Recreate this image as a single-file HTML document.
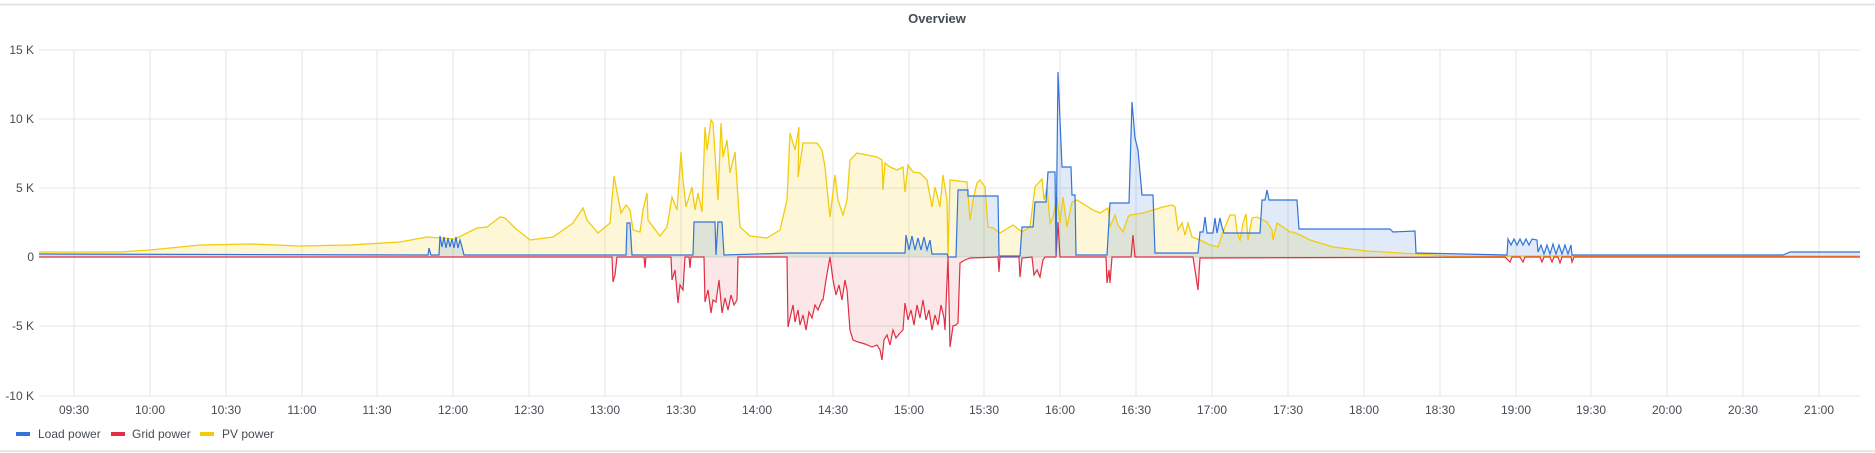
<!DOCTYPE html>
<html><head><meta charset="utf-8"><style>
html,body{margin:0;padding:0;background:#fff;}
svg{display:block;font-family:"Liberation Sans",sans-serif;}
</style></head><body>
<svg width="1875" height="453" viewBox="0 0 1875 453" xmlns="http://www.w3.org/2000/svg">
<rect x="0" y="0" width="1875" height="453" fill="#fff"/>
<line x1="0" y1="4.5" x2="1875" y2="4.5" stroke="#dde1e6" stroke-width="1.5"/>
<line x1="0" y1="451" x2="1875" y2="451" stroke="#dde1e6" stroke-width="1.5"/>
<text x="937" y="23" text-anchor="middle" font-size="13" font-weight="bold" fill="#464c54">Overview</text>
<g stroke="#e4e4e4" stroke-width="1">
<line x1="39" y1="50" x2="1860" y2="50"/><line x1="39" y1="119" x2="1860" y2="119"/>
<line x1="39" y1="188" x2="1860" y2="188"/><line x1="39" y1="257" x2="1860" y2="257"/>
<line x1="39" y1="326" x2="1860" y2="326"/><line x1="39" y1="396" x2="1860" y2="396"/>
<line x1="74" y1="50" x2="74" y2="396"/><line x1="150" y1="50" x2="150" y2="396"/><line x1="226" y1="50" x2="226" y2="396"/><line x1="302" y1="50" x2="302" y2="396"/><line x1="377" y1="50" x2="377" y2="396"/><line x1="453" y1="50" x2="453" y2="396"/><line x1="529" y1="50" x2="529" y2="396"/><line x1="605" y1="50" x2="605" y2="396"/><line x1="681" y1="50" x2="681" y2="396"/><line x1="757" y1="50" x2="757" y2="396"/><line x1="833" y1="50" x2="833" y2="396"/><line x1="909" y1="50" x2="909" y2="396"/><line x1="984" y1="50" x2="984" y2="396"/><line x1="1060" y1="50" x2="1060" y2="396"/><line x1="1136" y1="50" x2="1136" y2="396"/><line x1="1212" y1="50" x2="1212" y2="396"/><line x1="1288" y1="50" x2="1288" y2="396"/><line x1="1364" y1="50" x2="1364" y2="396"/><line x1="1440" y1="50" x2="1440" y2="396"/><line x1="1516" y1="50" x2="1516" y2="396"/><line x1="1591" y1="50" x2="1591" y2="396"/><line x1="1667" y1="50" x2="1667" y2="396"/><line x1="1743" y1="50" x2="1743" y2="396"/><line x1="1819" y1="50" x2="1819" y2="396"/>
</g>
<g font-size="12" fill="#464c54" text-anchor="end">
<text x="34" y="54">15 K</text><text x="34" y="123">10 K</text><text x="34" y="192">5 K</text><text x="34" y="261">0</text><text x="34" y="330">-5 K</text><text x="34" y="400">-10 K</text>
</g>
<g font-size="12" fill="#464c54" text-anchor="middle">
<text x="74" y="414">09:30</text><text x="150" y="414">10:00</text><text x="226" y="414">10:30</text><text x="302" y="414">11:00</text><text x="377" y="414">11:30</text><text x="453" y="414">12:00</text><text x="529" y="414">12:30</text><text x="605" y="414">13:00</text><text x="681" y="414">13:30</text><text x="757" y="414">14:00</text><text x="833" y="414">14:30</text><text x="909" y="414">15:00</text><text x="984" y="414">15:30</text><text x="1060" y="414">16:00</text><text x="1136" y="414">16:30</text><text x="1212" y="414">17:00</text><text x="1288" y="414">17:30</text><text x="1364" y="414">18:00</text><text x="1440" y="414">18:30</text><text x="1516" y="414">19:00</text><text x="1591" y="414">19:30</text><text x="1667" y="414">20:00</text><text x="1743" y="414">20:30</text><text x="1819" y="414">21:00</text>
</g>
<!-- PV -->
<polygon fill="#F2CC0C" fill-opacity="0.16" points="39,257 39,252 120,252 150,250 200,245 250,244 300,246 350,245 400,242 427,237 455,239 477,228 487,227 500,217 505,218 515,228 530,240 553,237 573,223 583,208 587,220 598,233 610,223 614,176 618,197 621,213 626,205 630,210 633,230 640,232 643,210 647,193 648,220 660,236 667,227 672,197 677,210 681,152 683,180 686,207 692,187 695,210 698,193 702,212 705,127 707,150 711,120 713,123 718,200 721,123 723,157 727,140 730,173 735,152 737,183 740,227 750,236 767,238 780,230 787,200 790,133 795,150 799,127 798,177 803,143 817,143 822,150 825,167 827,188 830,217 835,175 838,200 843,215 847,200 850,160 857,153 877,157 882,160 883,190 885,163 890,167 897,170 903,167 905,192 908,165 913,172 920,173 927,180 932,207 935,187 940,207 943,175 947,200 948,257 950,180 967,182 970,220 973,200 977,183 980,180 985,187 988,227 993,228 1000,233 1013,225 1022,232 1030,227 1035,187 1042,179 1044,200 1047,187 1050,223 1053,217 1057,197 1060,223 1063,197 1067,227 1072,202 1077,200 1093,210 1100,213 1108,208 1110,227 1115,215 1118,225 1123,232 1128,217 1130,215 1143,213 1153,210 1163,207 1172,205 1175,207 1178,230 1182,223 1185,235 1188,223 1192,237 1200,240 1210,245 1218,247 1223,232 1230,215 1235,215 1237,232 1240,240 1243,223 1246,214 1248,240 1252,218 1257,217 1267,222 1272,230 1273,240 1277,223 1283,227 1290,232 1293,232 1300,235 1310,240 1320,243 1333,247 1367,251 1400,253 1450,256 1860,256 1860,257"/>
<!-- Load fill -->
<polygon fill="#3274D9" fill-opacity="0.15" points="39,257 39,254 428,255 429,248 431,255 439,255 440,236 442,247 444,237 446,248 448,238 450,247 452,239 454,248 456,237 458,248 460,240 462,247 464,255 626,255 627,223 630,223 632,255 693,255 694,222 715,222 716,255 718,222 722,222 724,255 790,253 905,253 906,235 909,250 912,236 915,250 918,238 921,250 924,237 927,250 930,240 932,254 947,254 948,257 956,257 958,190 968,190 968,196 998,196 999,256 1020,256 1022,227 1033,227 1035,202 1046,202 1048,172 1055,172 1056,255 1058,72 1062,167 1071,167 1072,195 1075,195 1076,255 1107,255 1110,203 1129,203 1132,102 1135,138 1138,150 1142,195 1153,195 1155,253 1198,253 1200,232 1203,232 1205,217 1207,233 1213,233 1215,218 1217,233 1220,218 1222,227 1224,233 1260,233 1262,200 1265,200 1267,190 1269,200 1297,200 1299,229 1390,229 1393,232 1415,231 1416,253 1507,255 1508,239 1511,245 1514,239 1517,245 1520,239 1523,245 1526,239 1529,245 1532,239 1537,240 1538,252 1541,245 1544,254 1547,245 1550,254 1553,244 1556,254 1559,245 1562,254 1565,245 1568,254 1571,245 1572,255 1783,255 1790,252 1860,252 1860,257"/>
<!-- Grid fill -->
<polygon fill="#E02F44" fill-opacity="0.12" points="39,257 612,257 613,282 615,275 617,257 644,257 645,268 646,257 671,257 672,280 675,270 678,303 680,285 683,290 685,257 689,257 690,268 691,257 704,257 705,302 708,290 711,313 713,300 716,302 719,280 722,313 725,298 728,310 731,295 734,305 737,300 738,257 787,257 788,327 790,318 793,305 795,322 798,310 800,325 803,315 806,330 809,312 812,318 815,305 818,310 822,300 823,300 826,280 830,257 833,280 836,295 839,285 842,300 845,280 847,290 850,330 853,340 858,342 865,344 872,347 877,345 880,350 882,360 884,340 887,335 890,345 893,330 896,338 900,333 903,330 905,303 908,320 911,310 914,325 917,305 920,318 923,300 926,320 929,310 932,330 935,315 938,325 941,305 944,318 945,330 948,257 950,347 953,326 956,325 958,323 960,263 965,260 970,258 998,257 999,272 1000,257 1019,257 1020,277 1022,258 1032,257 1034,275 1037,270 1040,277 1043,260 1045,257 1106,257 1107,283 1109,270 1110,283 1112,257 1193,257 1195,270 1198,290 1200,258 1860,257"/>
<!-- lines -->
<polyline fill="none" stroke="#F2CC0C" stroke-width="1.3" points="39,252 120,252 150,250 200,245 250,244 300,246 350,245 400,242 427,237 455,239 477,228 487,227 500,217 505,218 515,228 530,240 553,237 573,223 583,208 587,220 598,233 610,223 614,176 618,197 621,213 626,205 630,210 633,230 640,232 643,210 647,193 648,220 660,236 667,227 672,197 677,210 681,152 683,180 686,207 692,187 695,210 698,193 702,212 705,127 707,150 711,120 713,123 718,200 721,123 723,157 727,140 730,173 735,152 737,183 740,227 750,236 767,238 780,230 787,200 790,133 795,150 799,127 798,177 803,143 817,143 822,150 825,167 827,188 830,217 835,175 838,200 843,215 847,200 850,160 857,153 877,157 882,160 883,190 885,163 890,167 897,170 903,167 905,192 908,165 913,172 920,173 927,180 932,207 935,187 940,207 943,175 947,200 948,257 950,180 967,182 970,220 973,200 977,183 980,180 985,187 988,227 993,228 1000,233 1013,225 1022,232 1030,227 1035,187 1042,179 1044,200 1047,187 1050,223 1053,217 1057,197 1060,223 1063,197 1067,227 1072,202 1077,200 1093,210 1100,213 1108,208 1110,227 1115,215 1118,225 1123,232 1128,217 1130,215 1143,213 1153,210 1163,207 1172,205 1175,207 1178,230 1182,223 1185,235 1188,223 1192,237 1200,240 1210,245 1218,247 1223,232 1230,215 1235,215 1237,232 1240,240 1243,223 1246,214 1248,240 1252,218 1257,217 1267,222 1272,230 1273,240 1277,223 1283,227 1290,232 1293,232 1300,235 1310,240 1320,243 1333,247 1367,251 1400,253 1450,256 1860,256"/>
<polyline fill="none" stroke="#E02F44" stroke-width="1.2" points="39,257 612,257 613,282 615,275 617,257 644,257 645,268 646,257 671,257 672,280 675,270 678,303 680,285 683,290 685,257 689,257 690,268 691,257 704,257 705,302 708,290 711,313 713,300 716,302 719,280 722,313 725,298 728,310 731,295 734,305 737,300 738,257 787,257 788,327 790,318 793,305 795,322 798,310 800,325 803,315 806,330 809,312 812,318 815,305 818,310 822,300 823,300 826,280 830,257 833,280 836,295 839,285 842,300 845,280 847,290 850,330 853,340 858,342 865,344 872,347 877,345 880,350 882,360 884,340 887,335 890,345 893,330 896,338 900,333 903,330 905,303 908,320 911,310 914,325 917,305 920,318 923,300 926,320 929,310 932,330 935,315 938,325 941,305 944,318 945,330 948,257 950,347 953,326 956,325 958,323 960,263 965,260 970,258 998,257 999,272 1000,257 1019,257 1020,277 1022,258 1032,257 1034,275 1037,270 1040,277 1043,260 1045,257 1056,257 1058,222 1060,257 1106,257 1107,283 1109,270 1110,283 1112,257 1131,257 1133,235 1135,257 1193,257 1195,270 1198,290 1200,258 1505,257 1510,262 1512,257 1520,257 1523,262 1525,257 1540,257 1542,262 1544,257 1550,257 1552,262 1554,257 1558,257 1560,263 1562,257 1571,257 1572,262 1574,257 1860,257"/>
<polyline fill="none" stroke="#3274D9" stroke-width="1.2" points="39,254 428,255 429,248 431,255 439,255 440,236 442,247 444,237 446,248 448,238 450,247 452,239 454,248 456,237 458,248 460,240 462,247 464,255 626,255 627,223 630,223 632,255 693,255 694,222 715,222 716,255 718,222 722,222 724,255 790,253 905,253 906,235 909,250 912,236 915,250 918,238 921,250 924,237 927,250 930,240 932,254 947,254 948,257 956,257 958,190 968,190 968,196 998,196 999,256 1020,256 1022,227 1033,227 1035,202 1046,202 1048,172 1055,172 1056,255 1058,72 1062,167 1071,167 1072,195 1075,195 1076,255 1107,255 1110,203 1129,203 1132,102 1135,138 1138,150 1142,195 1153,195 1155,253 1198,253 1200,232 1203,232 1205,217 1207,233 1213,233 1215,218 1217,233 1220,218 1222,227 1224,233 1260,233 1262,200 1265,200 1267,190 1269,200 1297,200 1299,229 1390,229 1393,232 1415,231 1416,253 1507,255 1508,239 1511,245 1514,239 1517,245 1520,239 1523,245 1526,239 1529,245 1532,239 1537,240 1538,252 1541,245 1544,254 1547,245 1550,254 1553,244 1556,254 1559,245 1562,254 1565,245 1568,254 1571,245 1572,255 1783,255 1790,252 1860,252"/>
<!-- legend -->
<rect x="16" y="432" width="14" height="4" fill="#3274D9"/>
<text x="38" y="438" font-size="12" fill="#464c54">Load power</text>
<rect x="111" y="432" width="14" height="4" fill="#E02F44"/>
<text x="132" y="438" font-size="12" fill="#464c54">Grid power</text>
<rect x="200" y="432" width="14" height="4" fill="#F2CC0C"/>
<text x="222" y="438" font-size="12" fill="#464c54">PV power</text>
</svg>
</body></html>
